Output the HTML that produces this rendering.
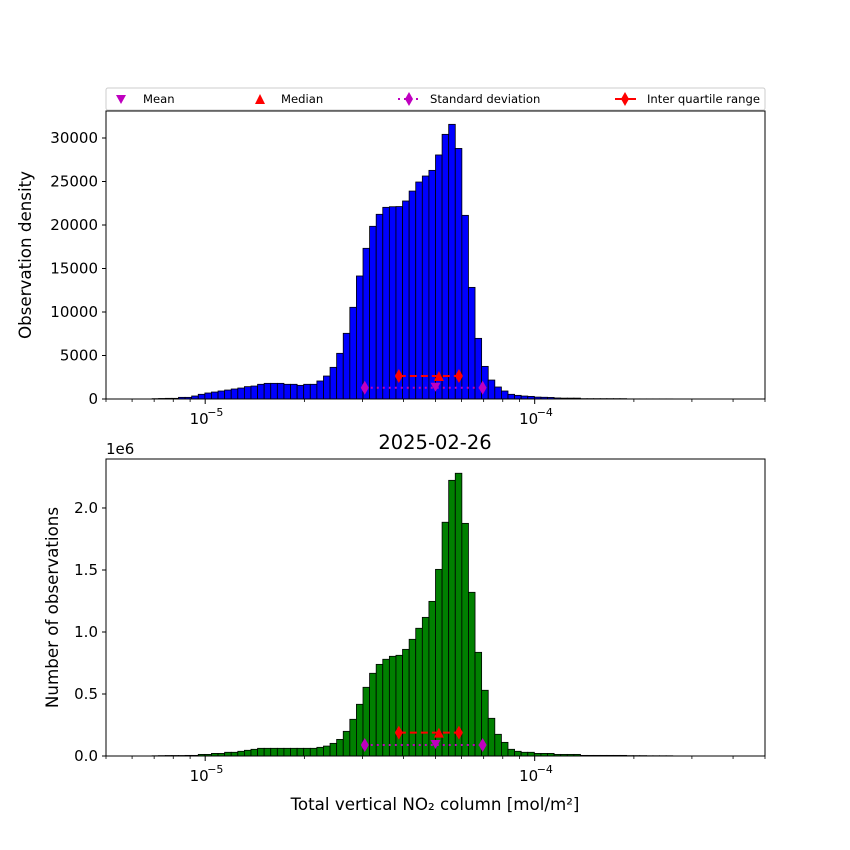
<!DOCTYPE html>
<html><head><meta charset="utf-8"><style>
html,body{margin:0;padding:0;background:#fff;}
svg{display:block;font-family:"DejaVu Sans","Liberation Sans",sans-serif;}
</style></head><body>
<svg id="chart" width="850" height="850" viewBox="0 0 850 850" xmlns="http://www.w3.org/2000/svg"></svg>
<script>
// ---- data ----
const binCount = 100;
const xMin = 5e-6, xMax = 5e-4;
const densityValues = [0,0,0,0,0,0,0,40,60,77,77,190,190,345,540,690,800,920,1030,1150,1260,1420,1490,1690,1800,1800,1800,1690,1690,1570,1690,1690,2070,2640,3640,5250,7550,10540,14140,17320,19850,21230,22030,22100,22120,22760,23900,24940,25630,26280,28050,30420,31570,28800,21110,12830,6970,3750,2180,1380,920,540,420,340,300,220,200,180,120,100,100,100,40,40,40,40,40,40,40,15,15,15,15,15,15,15,0,0,0,0,0,0,0,0,0,0,0,0,0,0];
const countValues = [0,0,0,0,0,0,0,0.002,0.003,0.004,0.004,0.004,0.005,0.005,0.013,0.013,0.021,0.021,0.030,0.030,0.038,0.046,0.054,0.062,0.062,0.062,0.062,0.062,0.062,0.062,0.062,0.062,0.070,0.080,0.102,0.134,0.199,0.296,0.417,0.554,0.667,0.739,0.780,0.804,0.812,0.860,0.941,1.030,1.118,1.247,1.505,1.885,2.223,2.280,1.876,1.320,0.836,0.530,0.304,0.175,0.110,0.054,0.038,0.030,0.030,0.021,0.021,0.021,0.013,0.013,0.013,0.013,0.005,0.005,0.005,0.005,0.005,0.005,0.005,0.003,0.003,0.003,0.002,0.002,0.002,0.002,0,0,0,0,0,0,0,0,0,0,0,0,0,0];
const statsX = {mean:5.0e-5, median:5.12e-5, q1:3.87e-5, q3:5.89e-5, sdLow:3.05e-5, sdHigh:6.95e-5};
const topStatsY = {iqr:2640, sd:1300};
const bottomStatsY = {iqr:0.188, sd:0.089};
const topYTicks = [0,5000,10000,15000,20000,25000,30000];
const bottomYTicks = [0,0.5,1.0,1.5,2.0];
const bottomYTickLabels = ["0.0","0.5","1.0","1.5","2.0"];
const topYMax = 33103, bottomYMax = 2.395;

const NS="http://www.w3.org/2000/svg";
const svg=document.getElementById('chart');
function mk(tag,attrs,parent){const e=document.createElementNS(NS,tag);for(const k in attrs)e.setAttribute(k,attrs[k]);(parent||svg).appendChild(e);return e;}
const L=106,R=765;
function xs(v){return L+(Math.log10(v)-Math.log10(xMin))/(Math.log10(xMax)-Math.log10(xMin))*(R-L);}

function panel(name,top,bottom,vals,ymax,color,yticks,ylabels,stY,ytitle,ytitleX){
  const g=mk('g',{});
  
  
  const ys=v=>bottom-v/ymax*(bottom-top);
  const lg=Math.log10(xMin), step=(Math.log10(xMax)-lg)/binCount;
  for(let i=0;i<binCount;i++){
    if(vals[i]<=0) continue;
    const x0=xs(Math.pow(10,lg+i*step)), x1=xs(Math.pow(10,lg+(i+1)*step));
    const r=mk('rect',{x:x0,y:ys(vals[i]),width:x1-x0,height:bottom-ys(vals[i]),fill:color,stroke:'#000','stroke-width':0.8},g);
    
    
  }
  const yI=ys(stY.iqr), yS=ys(stY.sd);
  const sdl=mk('line',{x1:xs(statsX.sdLow),x2:xs(statsX.sdHigh),y1:yS,y2:yS,stroke:'#bf00bf','stroke-width':2,'stroke-dasharray':'2,4'},g);
  
  
  const iql=mk('line',{x1:xs(statsX.q1),x2:xs(statsX.q3),y1:yI,y2:yI,stroke:'#f00','stroke-width':2,'stroke-dasharray':'7,4'},g);
  
  
  function diamond(x,y,c,n){const d=mk('polygon',{points:`${x},${y-7} ${x+4},${y} ${x},${y+7} ${x-4},${y}`,fill:c},g);}
  diamond(xs(statsX.sdLow),yS,'#bf00bf','std-dev-marker');
  diamond(xs(statsX.sdHigh),yS,'#bf00bf','std-dev-marker');
  diamond(xs(statsX.q1),yI,'#f00','iqr-marker');
  diamond(xs(statsX.q3),yI,'#f00','iqr-marker');
  const mx=xs(statsX.mean);
  const mt=mk('polygon',{points:`${mx-5},${yS-5} ${mx+5},${yS-5} ${mx},${yS+4}`,fill:'#bf00bf'},g);
  
  
  const dx=xs(statsX.median);
  const md=mk('polygon',{points:`${dx-5},${yI+5} ${dx+5},${yI+5} ${dx},${yI-5}`,fill:'#f00'},g);
  
  
  const fr=mk('rect',{x:L,y:top,width:R-L,height:bottom-top,fill:'none',stroke:'#000','stroke-width':1},g);
  
  
  yticks.forEach((t,i)=>{const y=ys(t);mk('line',{x1:L-4,x2:L,y1:y,y2:y,stroke:'#000'},g);
    const tx=mk('text',{x:L-8,y:y+5,'text-anchor':'end','font-size':15},g);tx.textContent=ylabels[i];
    
    });
  for(let e=-6;e<=-4;e++){for(let m=1;m<10;m++){const v=m*Math.pow(10,e);if(v<xMin*0.999||v>xMax*1.001)continue;
    const x=xs(v);const len=m===1?5:3;mk('line',{x1:x,x2:x,y1:bottom,y2:bottom+len,stroke:'#000','stroke-width':m===1?1:0.8},g);
    if(m===1){const tx=mk('text',{x:x-6,y:bottom+25,'text-anchor':'middle','font-size':15},g);tx.textContent='10';
      
      
      const sp=mk('text',{x:x+2,y:bottom+17,'text-anchor':'start','font-size':11},g);sp.textContent='\u2212'+(-e);
      
      }}}
  const yt=mk('text',{x:ytitleX,y:(top+bottom)/2,'text-anchor':'middle','font-size':16.7,transform:`rotate(-90 ${ytitleX} ${(top+bottom)/2})`},g);
  yt.textContent=ytitle;
  
  
}
panel('density-histogram',111,399,densityValues,topYMax,'#0000ff',topYTicks,topYTicks.map(String),topStatsY,'Observation density',31);
panel('count-histogram',459,756,countValues,bottomYMax,'#008000',bottomYTicks,bottomYTickLabels,bottomStatsY,'Number of observations',58);

let t=mk('text',{x:106,y:454,'font-size':15});t.textContent='1e6';


t=mk('text',{x:435,y:449,'text-anchor':'middle','font-size':19.5});t.textContent='2025-02-26';


t=mk('text',{x:435,y:810,'text-anchor':'middle','font-size':16.7});t.textContent='Total vertical NO\u2082 column [mol/m\u00b2]';



const lg=mk('g',{});


mk('rect',{x:106,y:88,width:659,height:22,rx:2,fill:'#fff',stroke:'#ccc','stroke-width':1},lg);
mk('polygon',{points:'116,95 126,95 121,104',fill:'#bf00bf'},lg);
mk('polygon',{points:'255,104 265,104 260,94',fill:'#f00'},lg);
mk('line',{x1:398,x2:420,y1:99,y2:99,stroke:'#bf00bf','stroke-width':2,'stroke-dasharray':'2,4'},lg);
mk('polygon',{points:'409,92 413,99 409,106 405,99',fill:'#bf00bf'},lg);
mk('line',{x1:615,x2:636,y1:99,y2:99,stroke:'#f00','stroke-width':2},lg);
mk('polygon',{points:'625,92 629,99 625,106 621,99',fill:'#f00'},lg);
[['Mean',143,'legend-mean'],['Median',281,'legend-median'],['Standard deviation',430,'legend-std-dev'],['Inter quartile range',647,'legend-iqr']].forEach(a=>{
  const e=mk('text',{x:a[1],y:103,'font-size':11.6},lg);e.textContent=a[0];
  
  
});
</script>
</body></html>
